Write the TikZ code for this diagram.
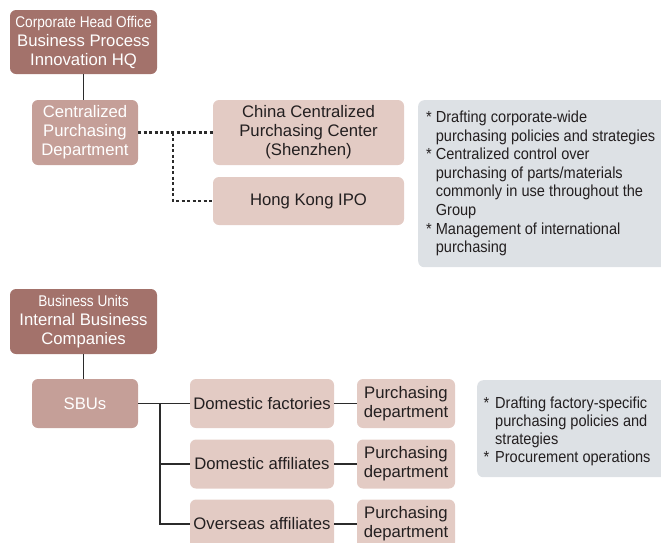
\documentclass[tikz,border=0pt]{standalone}
\usepackage{fontspec}
\setmainfont{Liberation Sans}
\newfontfamily\condfont[FakeStretch=0.88]{Liberation Sans}
\newfontfamily\notefont[FakeStretch=0.91]{Liberation Sans}
\definecolor{darkc}{HTML}{A3726B}
\definecolor{midc}{HTML}{C59F98}
\definecolor{lightc}{HTML}{E3CBC4}
\definecolor{notec}{HTML}{DDE1E5}
\definecolor{textc}{HTML}{231F20}
\definecolor{linec}{HTML}{2B2B2B}
\newcommand{\bul}{\relax *}
\begin{document}
\begin{tikzpicture}[x=1pt,y=-1pt,
  box/.style={rounded corners=6pt, inner sep=0pt, align=center, font=\fontsize{16.7}{19}\selectfont},
  darkbox/.style={box, fill=darkc, text=white},
  midbox/.style={box, fill=midc, text=white},
  lightbox/.style={box, fill=lightc, text=textc},
  notebox/.style={fill=notec, rounded corners=6pt, inner sep=0pt},
  notetext/.style={inner sep=0pt, text=textc, align=left},
  link/.style={draw=linec, line width=1.9pt},
  dotlink/.style={draw=linec, line width=2.2pt, dash pattern=on 3pt off 2.5pt}]
\useasboundingbox (0,0) rectangle (661,542);

% top section
\node[darkbox, minimum width=147, minimum height=64] (hq) at (83.5,42)
  {{\condfont\fontsize{15.5}{19}\selectfont Corporate Head Office}\\Business Process\\Innovation HQ};
\node[midbox, minimum width=106, minimum height=65] (cpd) at (85,132.5)
  {Centralized\\Purchasing\\Department};
\node[lightbox, minimum width=191, minimum height=65] (china) at (308.5,132.5)
  {China Centralized\\Purchasing Center\\(Shenzhen)};
\node[lightbox, minimum width=191, minimum height=48] (hk) at (308.5,201)
  {Hong Kong IPO};
\node[notebox, anchor=north west, minimum width=260, minimum height=167] (note1) at (418,100) {};
\node[notetext, anchor=base west] (note1t) at (426,122.4)
  {\notefont\fontsize{16}{18.6}\selectfont
   \begin{tabular}[t]{@{}l@{\hspace{4pt}}l@{}}
   \bul & Drafting corporate-wide\\
     & purchasing policies and strategies\\
   \bul & Centralized control over\\
     & purchasing of parts/materials\\
     & commonly in use throughout the\\
     & Group\\
   \bul & Management of international\\
     & purchasing
   \end{tabular}};

\draw[link] (hq.south) -- (hq.south |- cpd.north);
\coordinate (dj) at (173,132.5);
\draw[dotlink] (cpd.east) -- (china.west);
\draw[dotlink] (dj) |- (hk.west);

% bottom section
\node[darkbox, minimum width=147, minimum height=65] (bu) at (83.5,321.5)
  {{\condfont\fontsize{15.5}{19}\selectfont Business Units}\\Internal Business\\Companies};
\node[midbox, minimum width=106, minimum height=49] (sbu) at (85,403.5) {SBUs};
\node[lightbox, minimum width=144, minimum height=49] (df) at (262,403.5) {Domestic factories};
\node[lightbox, minimum width=144, minimum height=49] (da) at (262,464) {Domestic affiliates};
\node[lightbox, minimum width=144, minimum height=49] (oa) at (262,524) {Overseas affiliates};
\node[lightbox, minimum width=98, minimum height=49] (pd1) at (406,403.5) {Purchasing\\department};
\node[lightbox, minimum width=98, minimum height=49] (pd2) at (406,464) {Purchasing\\department};
\node[lightbox, minimum width=98, minimum height=49] (pd3) at (406,524) {Purchasing\\department};
\node[notebox, anchor=north west, minimum width=200, minimum height=97] (note2) at (477,380) {};
\node[notetext, anchor=base west] (note2t) at (483.3,408)
  {\notefont\fontsize{16}{18}\selectfont
   \begin{tabular}[t]{@{}l@{\hspace{6pt}}l@{}}
   \bul & Drafting factory-specific\\
     & purchasing policies and\\
     & strategies\\
   \bul & Procurement operations
   \end{tabular}};

\draw[link] (bu.south) -- (bu.south |- sbu.north);
\draw[link] (sbu.east) -- (df.west);
\coordinate (sj) at (160,403.5);
\draw[link] (sj) |- (da.west);
\draw[link] (sj) |- (oa.west);
\draw[link] (df.east) -- (pd1.west);
\draw[link] (da.east) -- (pd2.west);
\draw[link] (oa.east) -- (pd3.west);
\end{tikzpicture}
\end{document}
